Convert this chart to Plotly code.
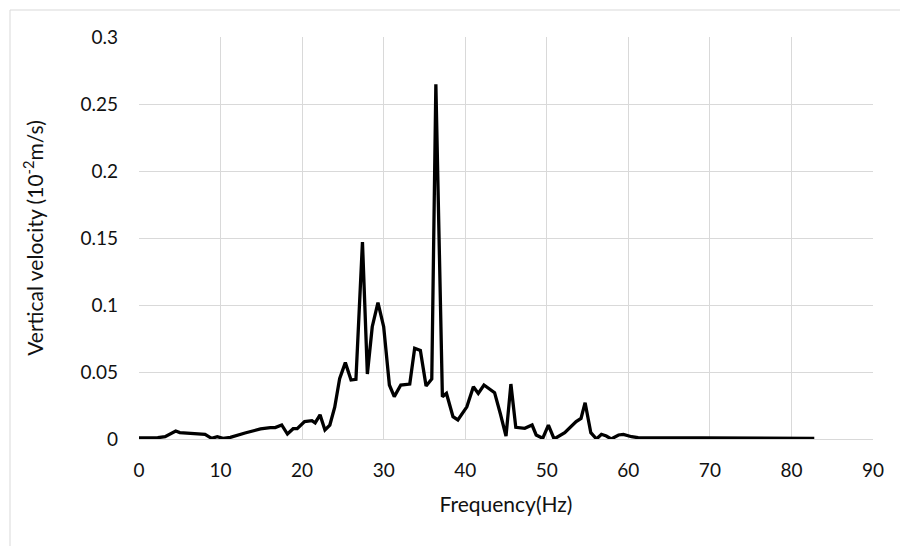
import plotly.graph_objects as go

freq_hz = [0, 1, 2.3, 3.2, 3.8, 4.5, 5.0, 6.5, 8.1, 8.9, 9.6, 10.3, 11.2, 13.0, 14.9, 16.1,
           16.7, 17.5, 18.2, 18.9, 19.4, 20.3, 21.2, 21.6, 22.2, 22.8, 23.4, 24.0, 24.6, 25.3,
           26.0, 26.6, 27.4, 28.0, 28.6, 29.3, 30.0, 30.7, 31.3, 32.1, 33.2, 33.8, 34.5, 35.2,
           35.9, 36.4, 37.2, 37.7, 38.5, 39.1, 40.2, 41.0, 41.6, 42.3, 43.0, 43.6, 44.3, 45.0,
           45.6, 46.2, 47.3, 48.2, 48.7, 49.5, 50.2, 50.9, 52.2, 53.6, 54.2, 54.7, 55.4, 56.1,
           56.7, 57.3, 57.9, 58.8, 59.4, 60.4, 61.2, 65, 69.5, 75, 82.8]
velocity = [0.0008, 0.0008, 0.001, 0.0017, 0.0035, 0.006, 0.0048, 0.0042, 0.0035, 0.0005,
            0.0017, 0.0005, 0.0012, 0.0045, 0.0075, 0.0085, 0.0085, 0.0105, 0.0037, 0.0077,
            0.0077, 0.013, 0.0137, 0.012, 0.018, 0.0067, 0.0104, 0.0237, 0.045, 0.057,
            0.044, 0.0445, 0.147, 0.0485, 0.0838, 0.1017, 0.0838, 0.0403, 0.0316, 0.0403,
            0.041, 0.0677, 0.066, 0.0395, 0.0448, 0.2647, 0.0316, 0.034, 0.0167, 0.0142,
            0.024, 0.039, 0.034, 0.0403, 0.037, 0.0346, 0.019, 0.0022, 0.041, 0.0087,
            0.008, 0.0104, 0.003, 0.0005, 0.0104, 0.0, 0.0047, 0.013, 0.0154, 0.0271,
            0.0047, 0.0, 0.0035, 0.0022, 0.0, 0.003, 0.0035, 0.0017, 0.001, 0.001,
            0.0008, 0.0005, 0.0005]

x_ticks = [0, 10, 20, 30, 40, 50, 60, 70, 80, 90]
y_ticks = [0, 0.05, 0.1, 0.15, 0.2, 0.25, 0.3]
y_tick_labels = ["0", "0.05", "0.1", "0.15", "0.2", "0.25", "0.3"]

fig = go.Figure()
fig.add_trace(go.Scatter(x=freq_hz, y=velocity, mode="lines",
                         line=dict(color="black", width=3.3), showlegend=False))

font_fam = "Lato, 'Open Sans', sans-serif"
fig.update_layout(
    width=900, height=546,
    margin=dict(l=139, r=27, t=37, b=107),
    paper_bgcolor="white", plot_bgcolor="white",
    font=dict(family=font_fam, size=19, color="#111111"),
    xaxis=dict(range=[0, 90], tickvals=x_ticks, showgrid=True, gridcolor="#d9d9d9",
               gridwidth=1, zeroline=False, showline=True, linecolor="#d9d9d9",
               ticks="", ticklabelstandoff=14,
               title=dict(text="Frequency(Hz)", font=dict(size=21), standoff=17)),
    yaxis=dict(range=[0, 0.3], tickvals=y_ticks, ticktext=y_tick_labels, showgrid=True,
               gridcolor="#d9d9d9", gridwidth=1, zeroline=False, showline=False,
               ticks="", ticklabelstandoff=20,
               title=dict(text="Vertical velocity (10<sup>-2</sup>m/s)", font=dict(size=21),
                          standoff=31)),
    shapes=[dict(type="rect", xref="paper", yref="paper",
                 x0=(10 - 139) / 734, x1=(905 - 139) / 734,
                 y0=(439 - 550) / 402, y1=(439 - 10) / 402,
                 line=dict(color="#d9d9d9", width=1), fillcolor="rgba(0,0,0,0)",
                 layer="below")],
)

fig.write_html("out.html")
